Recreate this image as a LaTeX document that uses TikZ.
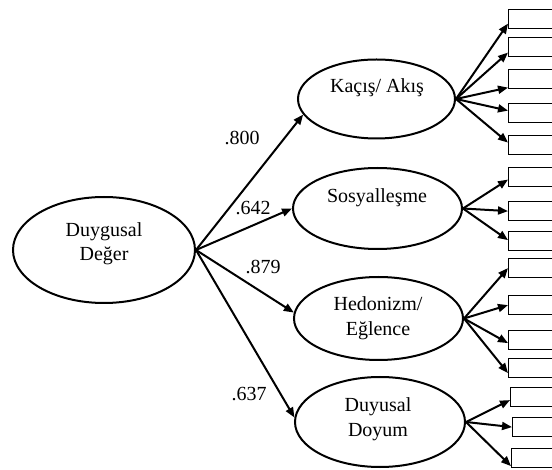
\documentclass[tikz,border=0pt]{standalone}
\usepackage{fontspec}
\setmainfont{Liberation Serif}
\usetikzlibrary{shapes.geometric,arrows.meta,calc}
\begin{document}
\begin{tikzpicture}[x=1pt,y=-1pt,
  latent/.style={ellipse,draw,line width=2pt,inner sep=0pt},
  item/.style={rectangle,draw,line width=1.2pt,anchor=north west,
               minimum width=60pt,minimum height=19pt,inner sep=0pt},
  arr/.style={line width=2pt,-{Triangle[length=10pt,width=8pt]}},
  txt/.style={font=\fontsize{20}{24}\selectfont,inner sep=0pt,anchor=base},
  coef/.style={font=\fontsize{20}{24}\selectfont,inner sep=0pt,anchor=center}]
\useasboundingbox (0,0) rectangle (552,470);
\clip (0,0) rectangle (552,470);

% latent factors
\node[latent,minimum width=182pt,minimum height=106pt] (D)  at (104,250)   {};
\node[latent,minimum width=157pt,minimum height=79pt]  (K)  at (376.5,99)  {};
\node[latent,minimum width=169pt,minimum height=81pt]  (S)  at (377.5,208.5) {};
\node[latent,minimum width=169pt,minimum height=83pt]  (H)  at (378.5,318.5) {};
\node[latent,minimum width=170pt,minimum height=90pt]  (Dy) at (380,422)   {};

% factor names
\node[txt] (tD1) at (104,237) {Duygusal};
\node[txt] (tD2) at (104,261) {Değer};
\node[txt] (tK)  at (377,93)  {Kaçış/ Akış};
\node[txt] (tS)  at (377,203) {Sosyalleşme};
\node[txt] (tH1) at (378,311) {Hedonizm/};
\node[txt] (tH2) at (378,336) {Eğlence};
\node[txt] (tY1) at (378,412) {Duyusal};
\node[txt] (tY2) at (378,437) {Doyum};

% observed indicators
\node[item] (R1)  at (508,9)   {};
\node[item] (R2)  at (508,37)  {};
\node[item] (R3)  at (508,69)  {};
\node[item] (R4)  at (508,103) {};
\node[item] (R5)  at (508,135) {};
\node[item] (R6)  at (508,167) {};
\node[item] (R7)  at (508,201) {};
\node[item] (R8)  at (508,231) {};
\node[item] (R9)  at (508,258) {};
\node[item] (R10) at (508,295) {};
\node[item] (R11) at (508,330) {};
\node[item] (R12) at (508,358) {};
\node[item] (R13) at (510,387) {};
\node[item] (R14) at (512,417) {};
\node[item] (R15) at (511,448) {};

% second-order paths
\draw[arr] (D.east) -- (K.192);
\draw[arr] (D.east) -- (S.west);
\draw[arr] (D.east) -- (H.176);
\draw[arr] (D.east) -- (Dy.177);

\node[coef] (c1) at (242,138) {.800};
\node[coef] (c2) at (253,208) {.642};
\node[coef] (c3) at (263,267) {.879};
\node[coef] (c4) at (249,394) {.637};

% first-order paths
\draw[arr] (K.east) -- ($(R1.west)+(0,4.5)$);
\draw[arr] (K.east) -- ($(R2.west)+(0,5.5)$);
\draw[arr] (K.east) -- ($(R3.west)+(0,8.5)$);
\draw[arr] (K.east) -- ($(R4.west)+(0,-2.5)$);
\draw[arr] (K.east) -- ($(R5.west)+(0,-2.5)$);

\draw[arr] (S.east) -- ($(R6.west)+(0,2.5)$);
\draw[arr] (S.east) -- (R7.west);
\draw[arr] (S.east) -- ($(R8.west)+(0,-1)$);

\draw[arr] (H.east) -- (R9.west);
\draw[arr] (H.east) -- (R10.west);
\draw[arr] (H.east) -- ($(R11.west)+(0,3)$);
\draw[arr] (H.east) -- ($(R12.west)+(0,5)$);

\draw[arr] (Dy.east) -- ($(R13.west)+(0,3)$);
\draw[arr] (Dy.east) -- (R14.west);
\draw[arr] (Dy.east) -- ($(R15.west)+(0,8)$);
\end{tikzpicture}
\end{document}
